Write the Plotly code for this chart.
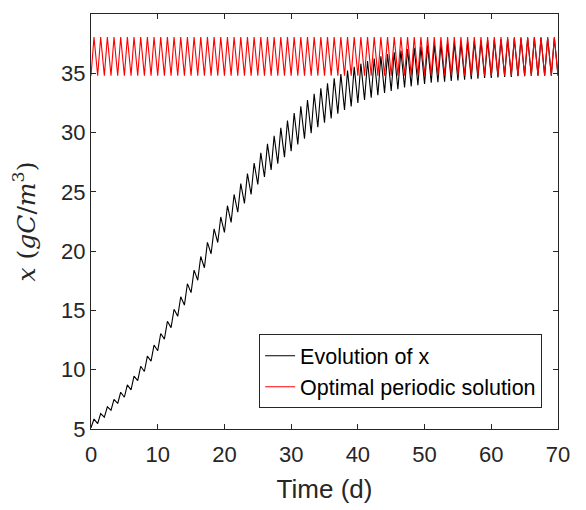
import plotly.graph_objects as go

# ---- data ----
# black curve: value at each daily minimum (t = 0..70) and each daily maximum (t = k + 0.45)
x_troughs = [5.1, 5.45, 6.0, 6.58, 7.15, 7.68, 8.3, 9.08, 9.85, 10.73,
             11.6, 12.58, 13.55, 14.5, 15.45, 16.5, 17.55, 18.6, 19.78, 20.73,
             21.58, 22.43, 23.28, 24.03, 24.78, 25.63, 26.25, 26.85, 27.38, 27.93,
             28.43, 29.0, 29.48, 29.95, 30.45, 30.83, 31.2, 31.6, 31.9, 32.2,
             32.5, 32.75, 32.95, 33.15, 33.35, 33.5, 33.65, 33.8, 33.9, 34.0,
             34.1, 34.2, 34.25, 34.3, 34.35, 34.4, 34.45, 34.5, 34.55, 34.6,
             34.6, 34.65, 34.7, 34.7, 34.75, 34.75, 34.8, 34.8, 34.8, 34.8,
             34.8]
x_peaks = [5.84, 6.3, 6.87, 7.5, 8.1, 8.72, 9.46, 10.29, 11.15, 12.08,
           13.05, 14.08, 15.1, 16.15, 17.25, 18.4, 19.55, 20.74, 21.88, 22.88,
           23.83, 24.78, 25.69, 26.54, 27.43, 28.29, 29.05, 29.72, 30.4, 31.02,
           31.65, 32.22, 32.75, 33.27, 33.73, 34.16, 34.58, 34.94, 35.24, 35.54,
           35.81, 36.04, 36.24, 36.44, 36.62, 36.77, 36.92, 37.05, 37.15, 37.25,
           37.35, 37.42, 37.47, 37.52, 37.57, 37.62, 37.67, 37.72, 37.77, 37.8,
           37.82, 37.87, 37.9, 37.92, 37.95, 37.97, 38.0, 38.0, 38.0, 38.0]
# optimal periodic solution: daily minimum and maximum
opt_trough = 34.8
opt_peak = 38.05
n_days = 70
peak_phase = 0.45  # fraction of the day at which the maximum occurs

x_ticks = [0, 10, 20, 30, 40, 50, 60, 70]
y_ticks = [5, 10, 15, 20, 25, 30, 35, 40]

# ---- build the polylines (alternate minima and maxima) ----
t_black, v_black, t_red, v_red = [], [], [], []
for k in range(n_days):
    t_black += [k, k + peak_phase]
    v_black += [x_troughs[k], x_peaks[k]]
    t_red += [k, k + peak_phase]
    v_red += [opt_trough, opt_peak]
t_black.append(n_days)
v_black.append(x_troughs[n_days])
t_red.append(n_days)
v_red.append(opt_trough)

axis_col = "#262626"
font_fam = "Liberation Sans, Arial, sans-serif"

fig = go.Figure()
fig.add_trace(go.Scatter(x=t_black, y=v_black, mode="lines",
                         line=dict(color="black", width=1.1),
                         name="Evolution of x"))
fig.add_trace(go.Scatter(x=t_red, y=v_red, mode="lines",
                         line=dict(color="#ff0000", width=1.1),
                         name="Optimal periodic solution"))

common = dict(showgrid=False, zeroline=False, showline=True, linecolor=axis_col,
              linewidth=1, mirror="allticks", ticks="inside", ticklen=5,
              tickcolor=axis_col, automargin=False,
              tickfont=dict(family=font_fam, size=22, color=axis_col))

fig.update_layout(
    width=586, height=510,
    margin=dict(l=83, r=36, t=6, b=89),
    paper_bgcolor="white", plot_bgcolor="white",
    xaxis=dict(range=[0, 70], tickvals=x_ticks, ticklabelstandoff=6,
               title=dict(text="Time (d)", font=dict(family=font_fam, size=26, color=axis_col),
                          standoff=13),
               **common),
    yaxis=dict(range=[5, 40], tickvals=y_ticks,
               title=dict(text="<i>x</i> (<i>gC</i>/<i>m</i><sup>3</sup>)",
                          font=dict(family="DejaVu Serif, Liberation Serif, serif", size=25,
                                    color=axis_col),
                          standoff=20),
               **common),
    legend=dict(x=0.966, xanchor="right", y=0.05, yanchor="bottom",
                bgcolor="white", bordercolor=axis_col, borderwidth=1,
                font=dict(family=font_fam, size=21.5, color="black"),
                tracegroupgap=0),
    showlegend=True,
)

fig.write_html("out.html")
